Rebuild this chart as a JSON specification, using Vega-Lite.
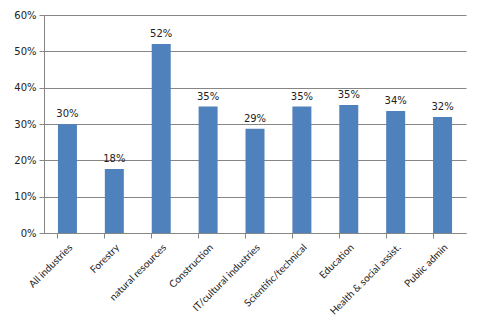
{
  "$schema": "https://vega.github.io/schema/vega-lite/v6.json",
  "autosize": "none",
  "width": 422,
  "height": 218,
  "padding": {"left": 44, "top": 15, "right": 16, "bottom": 93},
  "background": "white",
  "data": {
    "values": [
      {"industry": "All industries", "share": 0.299},
      {"industry": "Forestry", "share": 0.176},
      {"industry": "natural resources", "share": 0.520},
      {"industry": "Construction", "share": 0.348},
      {"industry": "IT/cultural industries", "share": 0.287},
      {"industry": "Scientific/technical", "share": 0.348},
      {"industry": "Education", "share": 0.352},
      {"industry": "Health & social assist.", "share": 0.336},
      {"industry": "Public admin", "share": 0.319}
    ]
  },
  "encoding": {
    "x": {
      "field": "industry",
      "type": "nominal",
      "sort": null,
      "scale": {"paddingInner": 0.595, "paddingOuter": 0.2975},
      "axis": {
        "title": null,
        "labelAngle": -45,
        "labelFont": "Lato",
        "labelFontSize": 10,
        "labelColor": "#222222",
        "bandPosition": 0,
        "domainColor": "#868686",
        "tickColor": "#868686",
        "tickSize": 5,
        "labelPadding": 4
      }
    },
    "y": {
      "field": "share",
      "type": "quantitative",
      "scale": {"domain": [0, 0.6]},
      "axis": {
        "title": null,
        "format": ".0%",
        "values": [0, 0.1, 0.2, 0.3, 0.4, 0.5, 0.6],
        "labelFont": "DejaVu Sans",
        "labelFontSize": 10,
        "labelColor": "#222222",
        "gridColor": "#868686",
        "gridOpacity": 1,
        "domainColor": "#868686",
        "tickColor": "#868686",
        "tickSize": 5,
        "labelPadding": 3
      }
    }
  },
  "layer": [
    {"mark": {"type": "bar", "color": "#4F81BD"}},
    {
      "mark": {"type": "text", "dy": -10, "font": "DejaVu Sans", "fontSize": 10, "color": "#222222"},
      "encoding": {"text": {"field": "share", "type": "quantitative", "format": ".0%"}}
    }
  ],
  "config": {"view": {"stroke": null}}
}
